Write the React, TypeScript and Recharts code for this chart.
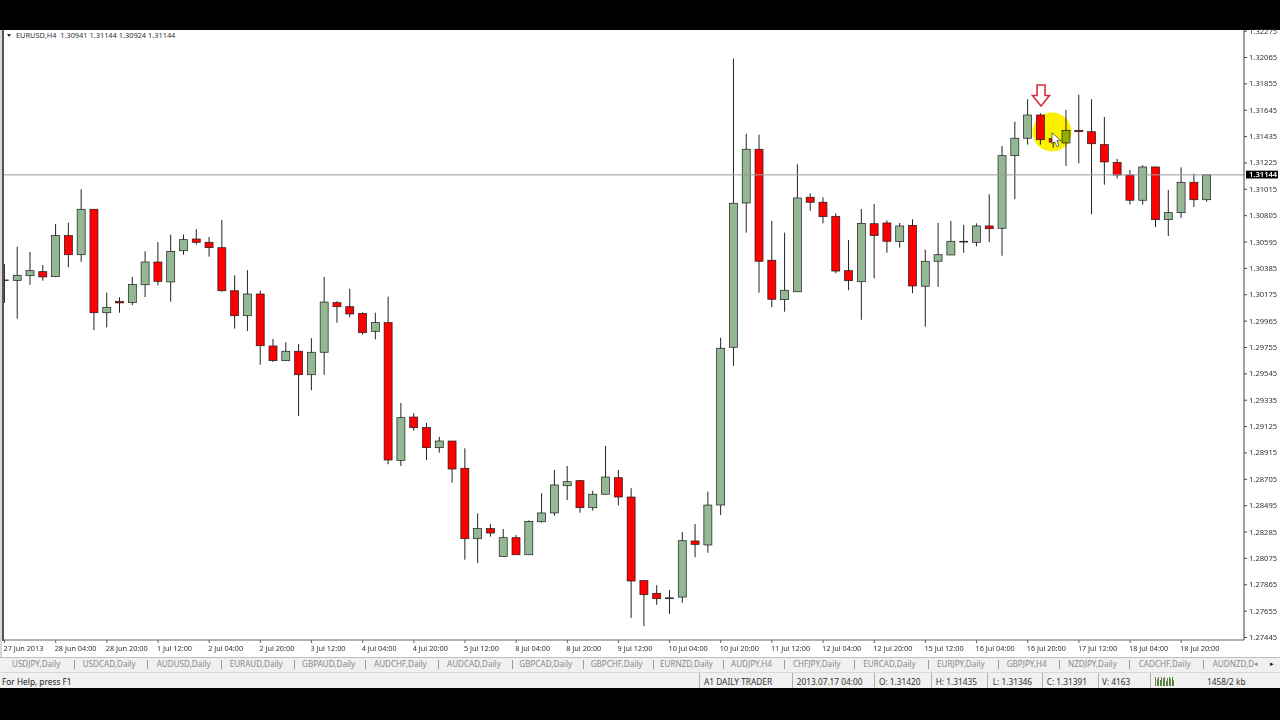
import React from "react";
import { ComposedChart, Bar, XAxis, YAxis, ReferenceLine, ReferenceDot } from "recharts";

const opens = [1.30293,1.30290,1.30327,1.30359,1.30319,1.30646,1.30494,1.30856,1.30032,1.30123,1.30112,1.30255,1.30436,1.30277,1.30526,1.30619,1.30593,1.30550,1.30207,1.30008,1.30181,1.29767,1.29650,1.29725,1.29538,1.29717,1.30112,1.30080,1.30027,1.29884,1.29953,1.28856,1.29201,1.29119,1.28957,1.29010,1.28793,1.28232,1.28312,1.28091,1.28240,1.28104,1.28367,1.28437,1.28654,1.28694,1.28479,1.28586,1.28718,1.28564,1.27898,1.27797,1.27754,1.27767,1.28214,1.28182,1.28500,1.29757,1.30906,1.31334,1.30450,1.30136,1.30199,1.30952,1.30912,1.30800,1.30367,1.30279,1.30741,1.30747,1.30598,1.30728,1.30243,1.30442,1.30492,1.30595,1.30593,1.30723,1.30705,1.31283,1.31422,1.31607,1.31420,1.31384,1.31485,1.31474,1.31371,1.31230,1.31129,1.30928,1.31193,1.30773,1.30829,1.31071,1.30932];
const highs = [1.30420,1.30558,1.30516,1.30412,1.30739,1.30749,1.31015,1.30856,1.30192,1.30155,1.30317,1.30521,1.30595,1.30654,1.30654,1.30697,1.30635,1.30771,1.30330,1.30370,1.30207,1.29823,1.29796,1.29783,1.29829,1.30317,1.30123,1.30223,1.30035,1.30032,1.30160,1.29313,1.29231,1.29154,1.29044,1.29010,1.28952,1.28434,1.28349,1.28309,1.28261,1.28378,1.28594,1.28779,1.28811,1.28700,1.28614,1.28970,1.28779,1.28634,1.27898,1.27861,1.27823,1.28285,1.28349,1.28606,1.29833,1.32056,1.31458,1.31450,1.30763,1.30670,1.31214,1.30983,1.30952,1.30824,1.30611,1.30858,1.30898,1.30768,1.30747,1.30776,1.30534,1.30747,1.30763,1.30731,1.30744,1.30975,1.31360,1.31554,1.31732,1.31621,1.31435,1.31647,1.31769,1.31732,1.31591,1.31257,1.31169,1.31206,1.31195,1.31010,1.31190,1.31140,1.31130];
const lows = [1.30110,1.29984,1.30255,1.30287,1.30315,1.30394,1.30438,1.29894,1.29916,1.30032,1.30091,1.30157,1.30250,1.30120,1.30494,1.30574,1.30478,1.30199,1.29905,1.29886,1.29618,1.29640,1.29650,1.29209,1.29414,1.29538,1.29953,1.29996,1.29857,1.29820,1.28825,1.28811,1.29092,1.28859,1.28917,1.28678,1.28065,1.28038,1.28248,1.28091,1.28104,1.28104,1.28359,1.28415,1.28540,1.28439,1.28455,1.28583,1.28497,1.27602,1.27536,1.27706,1.27632,1.27722,1.28084,1.28120,1.28421,1.29608,1.30670,1.30192,1.30075,1.30040,1.30199,1.30845,1.30744,1.30346,1.30211,1.29976,1.30306,1.30510,1.30550,1.30187,1.29921,1.30237,1.30492,1.30510,1.30561,1.30595,1.30486,1.30936,1.31371,1.31371,1.31346,1.31201,1.31222,1.30816,1.31052,1.31103,1.30893,1.30893,1.30715,1.30643,1.30787,1.30874,1.30916];
const closes = [1.30289,1.30330,1.30367,1.30317,1.30646,1.30494,1.30856,1.30032,1.30075,1.30110,1.30258,1.30436,1.30282,1.30521,1.30614,1.30593,1.30550,1.30207,1.30008,1.30181,1.29769,1.29650,1.29725,1.29538,1.29717,1.30117,1.30080,1.30022,1.29873,1.29953,1.28859,1.29196,1.29116,1.28957,1.29010,1.28787,1.28232,1.28312,1.28277,1.28240,1.28104,1.28370,1.28437,1.28660,1.28686,1.28479,1.28586,1.28723,1.28564,1.27895,1.27786,1.27754,1.27761,1.28216,1.28187,1.28500,1.29749,1.30904,1.31334,1.30442,1.30139,1.30211,1.30946,1.30912,1.30797,1.30364,1.30287,1.30744,1.30646,1.30601,1.30723,1.30245,1.30442,1.30494,1.30601,1.30601,1.30723,1.30701,1.31283,1.31422,1.31607,1.31410,1.31391,1.31485,1.31474,1.31378,1.31233,1.31129,1.30928,1.31193,1.30773,1.30829,1.31071,1.30932,1.31130];

const timeLabels = ["27 Jun 2013","28 Jun 04:00","28 Jun 20:00","1 Jul 12:00","2 Jul 04:00","2 Jul 20:00","3 Jul 12:00","4 Jul 04:00","4 Jul 20:00","5 Jul 12:00","8 Jul 04:00","8 Jul 20:00","9 Jul 12:00","10 Jul 04:00","10 Jul 20:00","11 Jul 12:00","12 Jul 04:00","12 Jul 20:00","15 Jul 12:00","16 Jul 04:00","16 Jul 20:00","17 Jul 12:00","18 Jul 04:00","18 Jul 20:00"];
const priceTicks = [1.27445,1.27655,1.27865,1.28075,1.28285,1.28495,1.28705,1.28915,1.29125,1.29335,1.29545,1.29755,1.29965,1.30175,1.30385,1.30595,1.30805,1.31015,1.31225,1.31435,1.31645,1.31855,1.32065,1.32275];
const tabLabels = ["USDJPY,Daily","USDCAD,Daily","AUDUSD,Daily","EURAUD,Daily","GBPAUD,Daily","AUDCHF,Daily","AUDCAD,Daily","GBPCAD,Daily","GBPCHF,Daily","EURNZD,Daily","AUDJPY,H4","CHFJPY,Daily","EURCAD,Daily","EURJPY,Daily","GBPJPY,H4","NZDJPY,Daily","CADCHF,Daily","AUDNZD,D"];
const statusLabels = ["A1 DAILY TRADER","2013.07.17 04:00","O: 1.31420","H: 1.31435","L: 1.31346","C: 1.31391","V: 4163","1458/2 kb"];
const lastPrice = 1.31144;
const lastLineLevel = 1.31130;
const headerText = "EURUSD,H4  1.30941 1.31144 1.30924 1.31144";
const helpText = "For Help, press F1";

const tabX = [12,82.7,156.7,229.7,302,374,447,519.3,590.7,660,731,793,863.3,937,1006.7,1068,1138.7,1212.7];
const tabSepX = [73.7,147,221,294,365,438,512,583,652.7,723,784,854,928,997.7,1059,1129,1203];
const statusX = [704,796.7,879,935.7,992.7,1046.7,1102,1207];
const statusSepX = [699,792,874,930.7,987,1042,1097.7,1150];
const meterHeights = [9,7,9,6,9,8,9,5,8,9,7,9,6];

const bars = opens.map((o, i) => ({ i, open: o, high: highs[i], low: lows[i], close: closes[i] }));
const tickIdx = timeLabels.map((_, k) => k * 4);

const FONT = "'Noto Sans', sans-serif";
const GREEN = "#94b894";
const RED = "#ff0000";

function Candle(props: any) {
  const { x, y, width, height, payload } = props;
  const { open, high, low, close } = payload;
  const cx = x + width / 2;
  const k = height / (high - low);
  const top = y + (high - Math.max(open, close)) * k;
  const bot = y + (high - Math.min(open, close)) * k;
  const up = close >= open;
  return (
    <g>
      <line x1={cx} x2={cx} y1={y} y2={y + height} stroke="#222" strokeWidth={1} />
      <rect x={cx - 4} y={top} width={8} height={Math.max(bot - top, 0.6)} fill={up ? GREEN : RED} stroke="#1c1c1c" strokeWidth={0.7} />
    </g>
  );
}

function TimeTick(props: any) {
  const { x, y, payload } = props;
  return (
    <text x={x - 1} y={y + 5} fontFamily={FONT} fontSize={7.3} fill="#333" textAnchor="start" dominantBaseline="middle">
      {timeLabels[payload.value / 4]}
    </text>
  );
}

function PriceTick(props: any) {
  const { x, y, payload } = props;
  return (
    <text x={x} y={y + 0.5} fontFamily={FONT} fontSize={7.6} fill="#333" textAnchor="start" dominantBaseline="middle">
      {payload.value.toFixed(5)}
    </text>
  );
}

function PriceTag(props: any) {
  const { viewBox } = props;
  const y = viewBox.y;
  const right = viewBox.x + viewBox.width;
  return (
    <g>
      <rect x={right + 2} y={y - 4.2} width={32} height={7.8} fill="#000" />
      <text x={right + 5} y={y - 0.3} fontFamily={FONT} fontSize={7.6} fontWeight={600} fill="#fff" dominantBaseline="middle">
        {lastPrice.toFixed(5)}
      </text>
    </g>
  );
}

function Highlight(props: any) {
  return <circle cx={props.cx} cy={props.cy} r={19.5} fill="#fbf000" style={{ mixBlendMode: "multiply" }} />;
}

function ArrowMark(props: any) {
  const { cx, cy } = props;
  const pts = [[-4,-10.5],[4,-10.5],[4,0],[8.5,0],[0,10.5],[-8.5,0],[-4,0]].map(p => `${cx + p[0]},${cy + p[1]}`).join(" ");
  return <polygon points={pts} fill="#fff" stroke="#d2303a" strokeWidth={1.6} />;
}

function CursorMark(props: any) {
  const { cx, cy } = props;
  const pts = [[0,0],[0,11],[2.5,9],[5,14],[7,13],[5,8],[9,8]].map(p => `${cx + p[0]},${cy + p[1]}`).join(" ");
  return <polygon points={pts} fill="#fff" stroke="#333" strokeWidth={0.7} />;
}

const box = (l: number, t: number, w: number, h: number, bg: string, z = 2): React.CSSProperties => ({
  position: "absolute", left: l, top: t, width: w, height: h, background: bg, zIndex: z,
});

const textAt = (l: number, cy: number, size: number, color: string): React.CSSProperties => ({
  position: "absolute", left: l, top: cy - 8, height: 16, lineHeight: "16px", fontFamily: FONT, fontSize: size, color, whiteSpace: "pre", zIndex: 3,
});

export default function App() {
  return (
    <div style={{ position: "absolute", left: 0, top: 0, width: 1280, height: 720, background: "#000", overflow: "hidden" }}>
      <div style={box(0, 30, 1280, 627, "#fff", 0)} />
      <div style={{ position: "absolute", left: 0, top: 0, zIndex: 1 }}>
        <ComposedChart width={1280} height={720} data={bars} margin={{ top: 30, right: 0, bottom: 60, left: 3 }}>
          <XAxis dataKey="i" type="number" domain={[-0.12, 96.91]} ticks={tickIdx} interval={0} height={20} tick={<TimeTick />} tickSize={3} tickMargin={1} stroke="#666" />
          <YAxis orientation="right" width={36} domain={[1.27425, 1.32284]} ticks={priceTicks} interval={0} tick={<PriceTick />} tickSize={3} tickMargin={2} stroke="#444" />
          <ReferenceLine y={lastLineLevel} stroke="#999" strokeWidth={1} label={<PriceTag />} />
          <Bar dataKey={(d: any) => [d.low, d.high]} shape={<Candle />} isAnimationActive={false} />
          <ReferenceDot x={81.9} y={1.31472} shape={<Highlight />} />
          <ReferenceDot x={81.9} y={1.31466} shape={<CursorMark />} />
          <ReferenceDot x={81.04} y={1.31762} shape={<ArrowMark />} />
        </ComposedChart>
      </div>

      <div style={box(0, 30, 2, 627, "#d8d8d8")} />
      <div style={box(2, 30, 1.5, 611, "#555")} />
      <div style={textAt(16, 35, 7.4, "#333")}>{headerText}</div>
      <div style={{ position: "absolute", left: 7, top: 33.5, width: 0, height: 0, borderLeft: "2.5px solid transparent", borderRight: "2.5px solid transparent", borderTop: "3px solid #222", zIndex: 3 }} />

      <div style={box(0, 656.5, 1280, 16, "#f0f0f0")} />
      <div style={box(0, 656.5, 1280, 1, "#bdbdbd")} />
      {tabLabels.map((t, i) => (
        <div key={t} style={textAt(tabX[i], 664, 8.1, "#8a8a8a")}>{t}</div>
      ))}
      {tabSepX.map((x) => <div key={x} style={box(x, 660, 1, 9, "#9a9a9a", 3)} />)}
      <div style={{ ...textAt(1254, 664, 7, "#888") }}>◂</div>
      <div style={{ ...textAt(1270, 664, 7, "#111") }}>▸</div>

      <div style={box(0, 672.5, 1280, 15.5, "#f0f0f0")} />
      <div style={box(0, 672, 1280, 1, "#d8d8d8")} />
      <div style={textAt(2, 682, 8.3, "#222")}>{helpText}</div>
      {statusLabels.map((t, i) => (
        <div key={t} style={textAt(statusX[i], 682, 8.3, "#333")}>{t}</div>
      ))}
      {statusSepX.map((x) => <div key={x} style={box(x, 673, 1, 15, "#b0b0b0", 3)} />)}
      {meterHeights.map((h, i) => (
        <div key={i} style={box(1155 + i * 1.5, 686 - h, 1, h, i % 2 ? "#3c8c28" : "#7a7a5a", 3)} />
      ))}
    </div>
  );
}
